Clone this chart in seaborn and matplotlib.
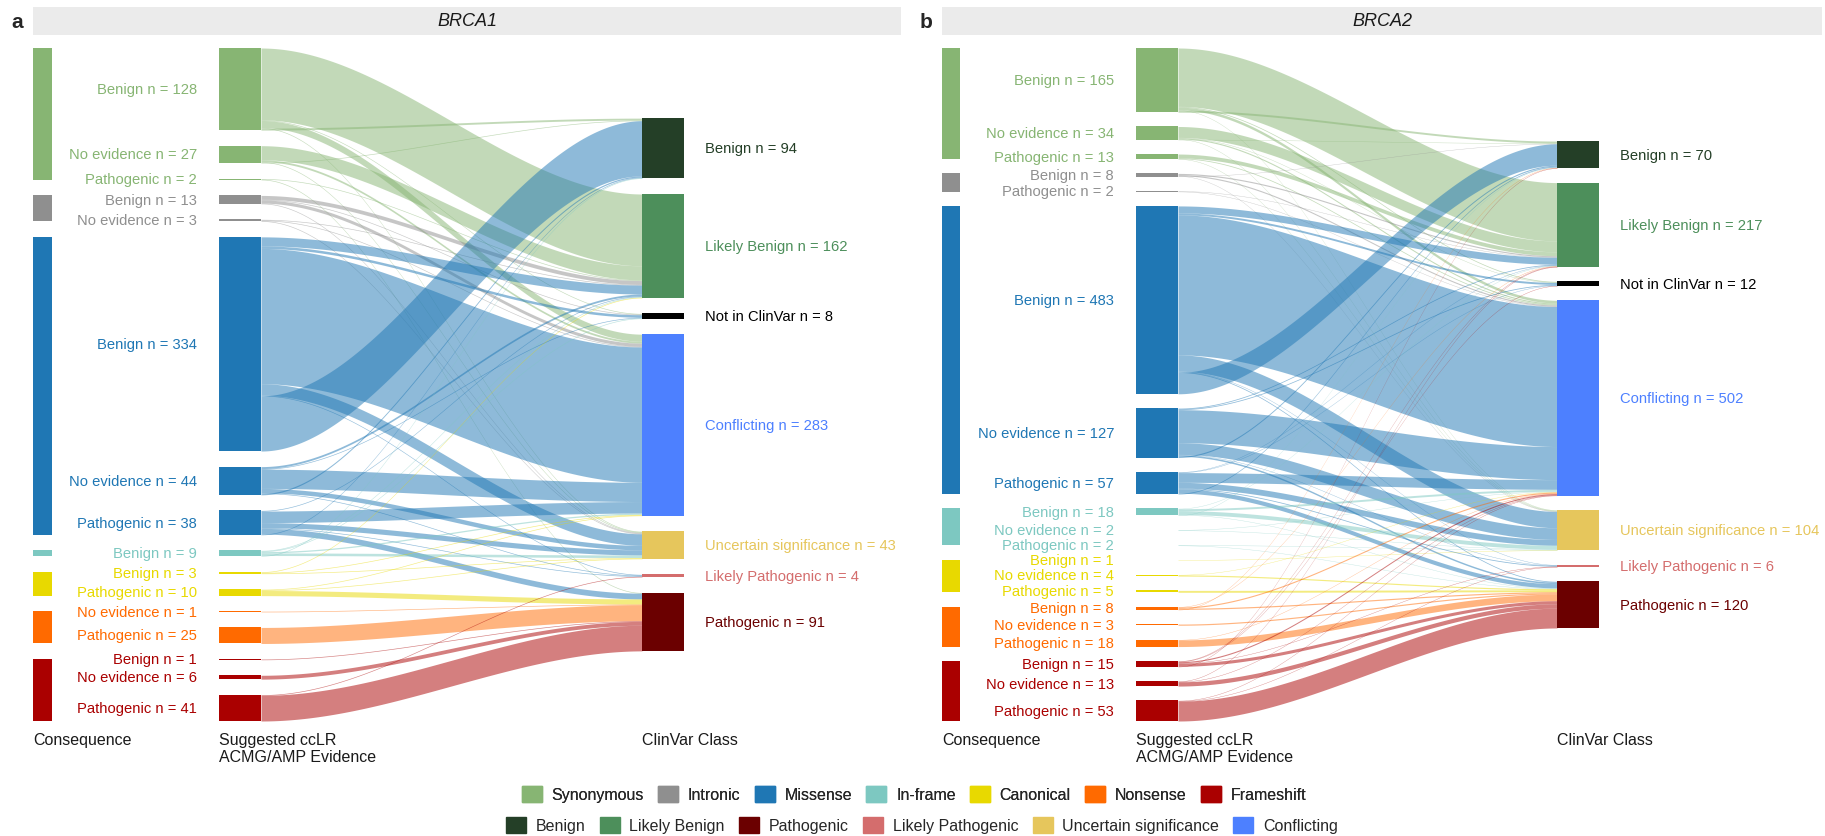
import numpy as np
import pandas as pd
import matplotlib
matplotlib.use("Agg")
import matplotlib.pyplot as plt
from matplotlib.patches import Patch, Rectangle
import seaborn as sns

sns.set_theme(style="white")
plt.rcParams['font.family'] = ['Liberation Sans', 'DejaVu Sans']

# ---------------- data ----------------
consequences = ["Synonymous", "Intronic", "Missense", "In-frame", "Canonical", "Nonsense", "Frameshift"]
clinvar_classes = ["Benign", "Likely Benign", "Not in ClinVar", "Conflicting",
                   "Uncertain significance", "Likely Pathogenic", "Pathogenic"]
legend_classes = ["Benign", "Likely Benign", "Pathogenic", "Likely Pathogenic",
                  "Uncertain significance", "Conflicting"]
genes = ["BRCA1", "BRCA2"]
panel_letters = ["a", "b"]

# middle column nodes (consequence, suggested evidence)
brca1_cons = ["Synonymous"] * 3 + ["Intronic"] * 2 + ["Missense"] * 3 + ["In-frame"] + \
             ["Canonical"] * 2 + ["Nonsense"] * 2 + ["Frameshift"] * 3
brca1_evid = ["Benign", "No evidence", "Pathogenic", "Benign", "No evidence",
              "Benign", "No evidence", "Pathogenic", "Benign", "Benign", "Pathogenic",
              "No evidence", "Pathogenic", "Benign", "No evidence", "Pathogenic"]
# flows to ClinVar class, columns in clinvar_classes order
brca1_flows = [
    [3, 112, 1, 11, 1, 0, 0],
    [1, 22, 0, 3, 1, 0, 0],
    [0, 1, 0, 0, 0, 0, 1],
    [0, 6, 1, 5, 1, 0, 0],
    [0, 1, 0, 1, 1, 0, 0],
    [86, 14, 4, 211, 18, 1, 0],
    [2, 3, 1, 30, 7, 1, 0],
    [1, 1, 0, 18, 8, 1, 9],
    [1, 1, 1, 2, 4, 0, 0],
    [0, 1, 0, 1, 1, 0, 0],
    [0, 0, 0, 1, 1, 0, 8],
    [0, 0, 0, 0, 0, 0, 1],
    [0, 0, 0, 0, 0, 0, 25],
    [0, 0, 0, 0, 0, 0, 1],
    [0, 0, 0, 0, 0, 0, 6],
    [0, 0, 0, 0, 0, 1, 40],
]

brca2_cons = ["Synonymous"] * 3 + ["Intronic"] * 2 + ["Missense"] * 3 + ["In-frame"] * 3 + \
             ["Canonical"] * 3 + ["Nonsense"] * 3 + ["Frameshift"] * 3
brca2_evid = ["Benign", "No evidence", "Pathogenic", "Benign", "Pathogenic"] + \
             ["Benign", "No evidence", "Pathogenic"] * 5
brca2_flows = [
    [5, 150, 2, 7, 1, 0, 0],
    [1, 28, 1, 3, 1, 0, 0],
    [0, 10, 0, 2, 1, 0, 0],
    [1, 3, 0, 3, 1, 0, 0],
    [0, 1, 0, 1, 0, 0, 0],
    [55, 18, 5, 360, 42, 1, 2],
    [3, 2, 2, 85, 30, 1, 4],
    [2, 1, 1, 25, 15, 2, 11],
    [1, 1, 0, 5, 10, 0, 1],
    [0, 0, 0, 1, 1, 0, 0],
    [0, 0, 0, 0, 1, 0, 1],
    [0, 0, 0, 0, 1, 0, 0],
    [0, 0, 0, 1, 0, 0, 3],
    [0, 0, 0, 0, 0, 0, 5],
    [1, 1, 0, 3, 0, 0, 3],
    [0, 0, 0, 0, 0, 0, 3],
    [0, 0, 0, 1, 0, 0, 17],
    [1, 1, 1, 3, 0, 1, 8],
    [0, 1, 0, 1, 0, 0, 11],
    [0, 0, 0, 1, 0, 1, 51],
]

# ---------------- style ----------------
cons_colors = dict(zip(consequences, ["#87B573", "#8F8F8F", "#1F77B4", "#7DC8C1",
                                      "#E8D900", "#FF6A00", "#AA0000"]))
class_colors = dict(zip(clinvar_classes, ["#243F27", "#4D8F5B", "#000000", "#4D80FF",
                                          "#E6C65C", "#D46D6D", "#6B0000"]))
W, H = 1825, 837
panel_px = [(33, 868), (942, 880)]          # left, width of each panel (px)
col_x = [dict(cons=(0, 19), mid=(186, 228), right=(609, 651)),
         dict(cons=(0, 18), mid=(194, 236), right=(615, 657))]
node_pad = [24.3, 36.8]                      # gap between nodes, in variants
src_order = [1, 2, 3, 4, 5, 6, 0]            # order of outgoing ribbons at a source
top_px, bot_px = 49, 722
FS = 10.6

fig = plt.figure(figsize=(W / 100, H / 100), dpi=100)

panels = [(brca1_cons, brca1_evid, brca1_flows), (brca2_cons, brca2_evid, brca2_flows)]
for p, (cons, evid, flows) in enumerate(panels):
    F = np.array(flows)
    df = pd.DataFrame({"cons": cons, "evid": evid, "n": F.sum(axis=1)})
    class_n = F.sum(axis=0)
    pad = node_pad[p]
    total = F.sum()
    Htot = total + (len(df) - 1) * pad

    mid_top = np.concatenate([[0], np.cumsum(df["n"].values + pad)[:-1]])
    right_h = total + (len(clinvar_classes) - 1) * pad
    right_top = (Htot - right_h) / 2 + np.concatenate([[0], np.cumsum(class_n + pad)[:-1]])

    left, width = panel_px[p]
    ax = fig.add_axes([left / W, (H - bot_px) / H, width / W, (bot_px - top_px) / H])
    ax.set_xlim(0, width)
    ax.set_ylim(Htot, 0)
    ax.axis("off")
    cx = col_x[p]

    # ribbons
    xa, xb = cx["mid"][1], cx["right"][0]
    xs = np.linspace(xa, xb, 200)
    u = (xs - xa) / (xb - xa)
    s = u * u * (3 - 2 * u)
    tgt_off = right_top.copy()
    for i in range(len(df)):
        src_off = mid_top[i]
        for j in src_order:
            v = F[i, j]
            if v <= 0:
                continue
            # incoming at target are stacked by source order
            t0 = right_top[j] + F[:i, j].sum()
            top = src_off + (t0 - src_off) * s
            ax.fill_between(xs, top, top + v, color=cons_colors[df["cons"][i]],
                            alpha=0.5, lw=0)
            src_off += v

    # middle nodes + labels
    for i, row in df.iterrows():
        c = cons_colors[row["cons"]]
        ax.add_patch(Rectangle((cx["mid"][0], mid_top[i]), cx["mid"][1] - cx["mid"][0],
                               row["n"], color=c, lw=0))
        ax.text(cx["mid"][0] - 22, mid_top[i] + row["n"] / 2,
                f"{row['evid']} n = {row['n']}", color=c, ha="right", va="center",
                fontsize=FS)

    # consequence bars span their sub-nodes
    for c in consequences:
        idx = np.where(df["cons"].values == c)[0]
        if len(idx) == 0:
            continue
        y0 = mid_top[idx[0]]
        y1 = mid_top[idx[-1]] + df["n"][idx[-1]]
        ax.add_patch(Rectangle((cx["cons"][0], y0), cx["cons"][1] - cx["cons"][0],
                               y1 - y0, color=cons_colors[c], lw=0))

    # ClinVar nodes + labels
    for j, k in enumerate(clinvar_classes):
        ax.add_patch(Rectangle((cx["right"][0], right_top[j]),
                               cx["right"][1] - cx["right"][0], class_n[j],
                               color=class_colors[k], lw=0))
        ax.text(cx["right"][1] + 21, right_top[j] + class_n[j] / 2,
                f"{k} n = {class_n[j]}", color=class_colors[k], ha="left",
                va="center", fontsize=FS)

    # column titles
    ty = (bot_px - 733) / (bot_px - top_px)
    tr = ax.get_xaxis_transform()
    for xk, lab in [("cons", "Consequence"), ("mid", "Suggested ccLR\nACMG/AMP Evidence"),
                    ("right", "ClinVar Class")]:
        ax.text(cx[xk][0], ty, lab, transform=tr, ha="left", va="top",
                fontsize=11.5, color="#1a1a1a", linespacing=1.2)

    # facet strip
    sax = fig.add_axes([left / W, 1 - 36 / H, width / W, 28 / H])
    sax.set_facecolor("#EBEBEB")
    sax.set_xticks([])
    sax.set_yticks([])
    for sp in sax.spines.values():
        sp.set_visible(False)
    sax.text(0.5, 0.5, genes[p], style="italic", ha="center", va="center",
             fontsize=13, transform=sax.transAxes, color="#1a1a1a")
    fig.text((left - 16) / W, 1 - 23 / H, panel_letters[p], fontsize=15,
             fontweight="bold", ha="center", va="center")

# legends
h1 = [Patch(color=cons_colors[c]) for c in consequences]
leg1 = fig.legend(h1, consequences, loc="center", bbox_to_anchor=(914 / W, 1 - 795 / H),
                  ncol=7, frameon=False, fontsize=11.5, handlelength=1.25,
                  handleheight=1.25, handletextpad=0.6, columnspacing=0.9)
h2 = [Patch(color=class_colors[c]) for c in legend_classes]
fig.legend(h2, legend_classes, loc="center", bbox_to_anchor=(922 / W, 1 - 826 / H),
           ncol=6, frameon=False, fontsize=11.5, handlelength=1.25,
           handleheight=1.25, handletextpad=0.6, columnspacing=0.9)
fig.add_artist(leg1)

fig.savefig("out.png", dpi=100)
